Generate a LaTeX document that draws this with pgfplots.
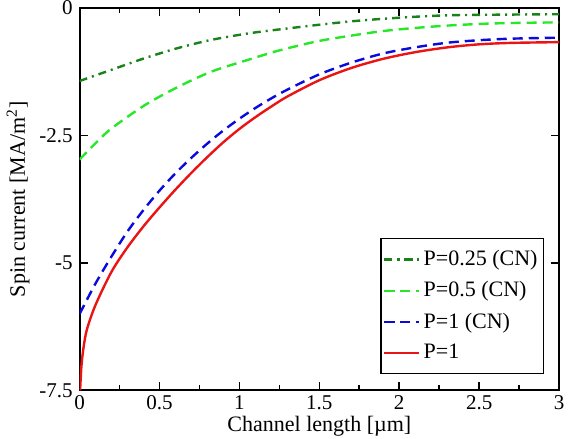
\documentclass[border=0pt]{standalone}
\usepackage{fontspec}
\setmainfont{Liberation Serif}
\usepackage{pgfplots}
\pgfplotsset{compat=1.18}
\definecolor{cndark}{RGB}{25,130,25}
\definecolor{cnlight}{RGB}{40,230,40}
\definecolor{cnblue}{RGB}{10,10,220}
\definecolor{pred}{RGB}{235,20,20}
\begin{document}
\begin{tikzpicture}
  \begin{axis}[
    scale only axis,
    width=239.5pt, height=191pt,
    xmin=0, xmax=3, ymin=-7.5, ymax=0,
    xtick={0,0.5,1,1.5,2,2.5,3},
    minor x tick num=1,
    ytick={-7.5,-5,-2.5,0},
    /pgf/number format/assume math mode=true,
    tick align=inside,
    major tick length=4pt, minor tick length=2.5pt,
    axis line style={line width=1pt},
    every tick/.style={black, line width=0.8pt},
    tick label style={font=\fontsize{10.5}{12}\selectfont},
    xticklabel style={inner ysep=1pt, yshift=-1.5pt},
    yticklabel style={inner ysep=0.5pt},
    label style={font=\fontsize{11}{13}\selectfont},
    xlabel={Channel length [µm]},
    ylabel={Spin current [MA/m\textsuperscript{2}]},
    xlabel style={inner ysep=1pt, yshift=-1pt},
    ylabel style={yshift=-2pt},
    legend style={at={(0.969,0.042)}, anchor=south east, draw=black,
      line width=0.6pt, row sep=2.5pt, inner xsep=1pt, inner ysep=4pt,
      font=\fontsize{11}{13}\selectfont},
    legend cell align=left,
  ]
    \addplot[cndark, line width=1.2pt, dash pattern=on 4pt off 2.5pt on 1pt off 2.5pt, smooth] coordinates {
      (0,-1.43) (0.1,-1.32) (0.2,-1.21) (0.41,-0.98) (0.62,-0.78) (0.83,-0.62)
      (1.07,-0.49) (1.3,-0.40) (1.49,-0.33) (1.7,-0.26) (1.9,-0.21) (2.1,-0.17)
      (2.32,-0.14) (2.6,-0.13) (3,-0.12)
    };
    \addlegendentry{P=0.25 (CN)}
    \addplot[cnlight, line width=1.2pt, dash pattern=on 5pt off 3pt, smooth] coordinates {
      (0,-2.97) (0.1,-2.65) (0.2,-2.36) (0.41,-1.90) (0.62,-1.54) (0.83,-1.24)
      (1.07,-1.0) (1.25,-0.83) (1.49,-0.65) (1.7,-0.54) (1.9,-0.45) (2.1,-0.39)
      (2.32,-0.34) (2.6,-0.30) (3,-0.28)
    };
    \addlegendentry{P=0.5 (CN)}
    \addplot[cnblue, line width=1.2pt, dash pattern=on 5pt off 3pt, smooth] coordinates {
      (0,-6.0) (0.1,-5.4) (0.2,-4.87) (0.3,-4.38) (0.4,-3.96) (0.5,-3.58)
      (0.6,-3.24) (0.7,-2.935) (0.8,-2.655) (0.9,-2.40) (1.0,-2.17) (1.1,-1.96)
      (1.2,-1.77) (1.3,-1.60) (1.5,-1.30) (1.7,-1.07) (1.9,-0.89) (2.1,-0.77)
      (2.3,-0.68) (2.5,-0.63) (2.7,-0.60) (3.0,-0.58)
    };
    \addlegendentry{P=1 (CN)}
    \addplot[pred, line width=1.2pt, smooth] coordinates {
      (0.003,-7.5) (0.012,-7.0) (0.025,-6.65) (0.046,-6.3) (0.1,-5.82)
      (0.2,-5.17) (0.3,-4.69) (0.4,-4.28) (0.5,-3.91) (0.6,-3.56) (0.7,-3.23)
      (0.8,-2.92) (0.9,-2.63) (1.0,-2.37) (1.1,-2.14) (1.2,-1.93) (1.3,-1.735)
      (1.5,-1.415) (1.7,-1.175) (1.9,-0.995) (2.1,-0.865) (2.3,-0.771)
      (2.5,-0.711) (2.7,-0.683) (3.0,-0.668)
    };
    \addlegendentry{P=1}
  \end{axis}
\end{tikzpicture}
\end{document}
